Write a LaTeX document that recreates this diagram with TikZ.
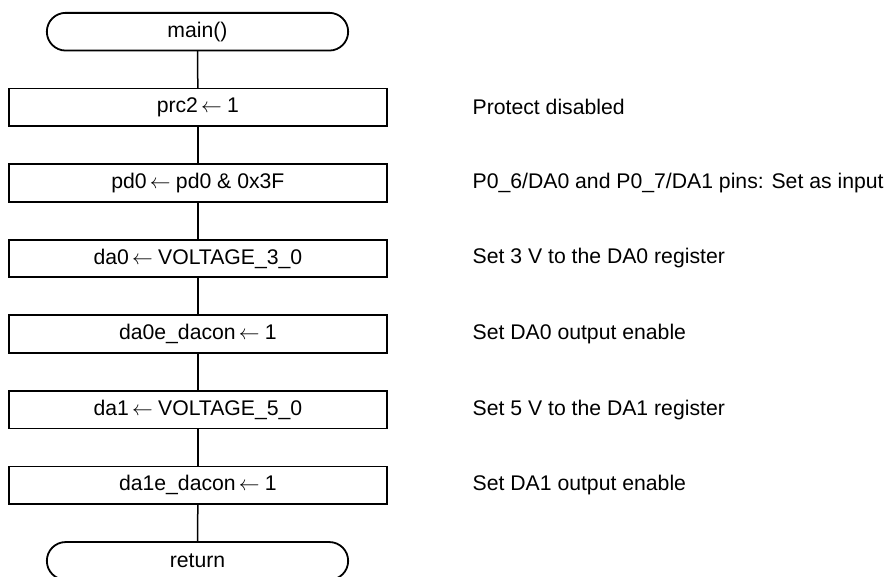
\documentclass[tikz,border=0pt]{standalone}
\usepackage{fontspec}
\setmainfont{Liberation Sans}
\newcommand{\assign}{\hspace{0.15em}$\leftarrow$\hspace{0.25em}}
\begin{document}
\begin{tikzpicture}[x=1pt, y=-1pt,
  every node/.style={font=\fontsize{21.2}{25}\selectfont, inner sep=0pt, outer sep=0pt},
  procbox/.style={draw, line width=1.8pt, minimum width=377.7pt, minimum height=37.7pt},
  termbox/.style={draw, line width=1.8pt, rounded corners=18.8pt, minimum width=301.3pt, minimum height=37.7pt},
  note/.style={anchor=west},
  link/.style={line width=1.5pt}]
\useasboundingbox (0,0) rectangle (889,576);

% flow column
\node[termbox] (start) at (197.5,31.7) {main()};
\node[procbox] (s1) at (197.9,107.3) {prc2\assign1};
\node[procbox] (s2) at (197.9,182.9) {pd0\assign pd0 \& 0x3F};
\node[procbox] (s3) at (197.9,258.5) {da0\assign VOLTAGE\_3\_0};
\node[procbox] (s4) at (197.9,334.1) {da0e\_dacon\assign1};
\node[procbox] (s5) at (197.9,409.7) {da1\assign VOLTAGE\_5\_0};
\node[procbox] (s6) at (197.9,485.3) {da1e\_dacon\assign1};
\node[termbox] (stop) at (197.5,560.9) {return};

% connectors
\draw[link] (start) -- (s1);
\draw[link] (s1) -- (s2);
\draw[link] (s2) -- (s3);
\draw[link] (s3) -- (s4);
\draw[link] (s4) -- (s5);
\draw[link] (s5) -- (s6);
\draw[link] (s6) -- (stop);

% remarks
\node[note] (n1) at (472.7,107.3) {Protect disabled};
\node[note] (n2) at (472.7,182.9) {P0\_6/DA0 and P0\_7/DA1 pins: Set as input};
\node[note] (n3) at (472.7,258.5) {Set 3 V to the DA0 register};
\node[note] (n4) at (472.7,334.1) {Set DA0 output enable};
\node[note] (n5) at (472.7,409.7) {Set 5 V to the DA1 register};
\node[note] (n6) at (472.7,485.3) {Set DA1 output enable};
\end{tikzpicture}
\end{document}
